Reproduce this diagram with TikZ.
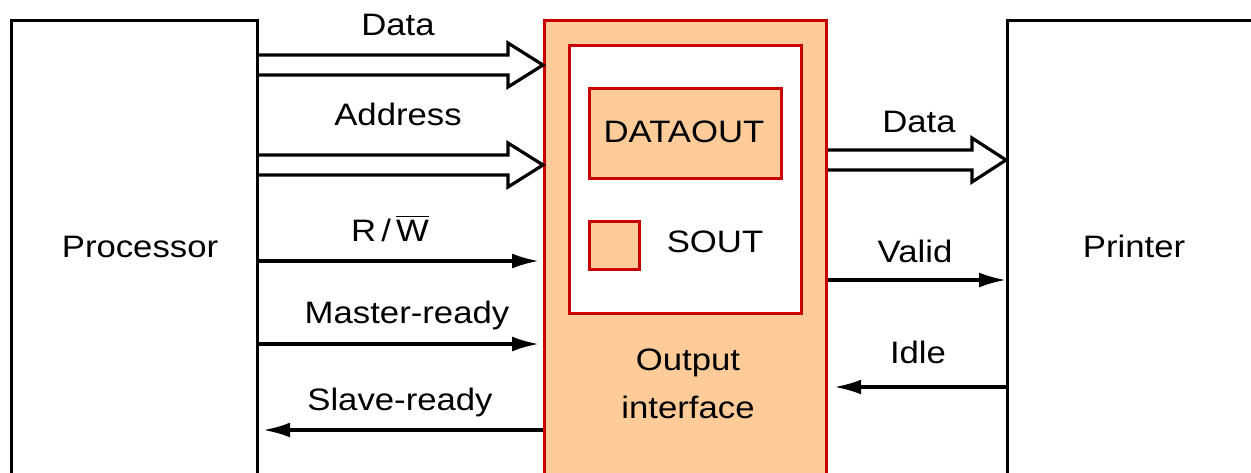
\documentclass[tikz,border=0pt]{standalone}
\usepackage{fontspec}
\setmainfont{Liberation Sans}[FakeStretch=1.12]
\usetikzlibrary{arrows.meta}
\definecolor{ired}{RGB}{200,0,0}
\definecolor{peach}{RGB}{255,204,153}
\begin{document}
\begin{tikzpicture}[x=0.5pt,y=-0.5pt,
  box/.style={draw=black,line width=1.6pt,fill=white,rectangle,inner sep=0pt,anchor=north west},
  rbox/.style={draw=ired,line width=1.6pt,rectangle,inner sep=0pt,anchor=north west},
  lbl/.style={anchor=base,inner sep=0pt,font=\fontsize{15.5}{18}\selectfont},
  bus/.style={draw=black,fill=white,line width=1.6pt,line join=miter},
  sig/.style={draw=black,line width=1.6pt,-{Latex[length=13.5pt,width=7.5pt]}}]
\useasboundingbox (0,0) rectangle (1251,472);
\clip (0,0) rectangle (1251,472);
% blocks
\node[box,minimum width=123pt,minimum height=250pt] (proc) at (10,19) {};
\node[rbox,fill=peach,minimum width=141pt,minimum height=250pt] (oi) at (543,19) {};
\node[rbox,fill=white,minimum width=116pt,minimum height=134pt] (inner) at (568,44) {};
\node[rbox,fill=peach,minimum width=96pt,minimum height=45pt] (dout) at (588,87) {};
\node[rbox,fill=peach,minimum width=25pt,minimum height=24pt] (sout) at (588,220) {};
\node[box,minimum width=130pt,minimum height=250pt] (prn) at (1006,19) {};
% texts
\node[lbl] (tproc) at (140,257) {Processor};
\node[lbl] (tprn) at (1134,257) {Printer};
\node[lbl] (tdout) at (684,142) {DATAOUT};
\node[lbl] (tsout) at (715,252) {SOUT};
\node[lbl] (tout1) at (688,370) {Output};
\node[lbl] (tout2) at (688,418) {interface};
\node[lbl] (tdata) at (398,35) {Data};
\node[lbl] (taddr) at (398,125) {Address};
\node[lbl] (trw) at (390,241) {R\,/\,$\overline{\mbox{W}}$};
\node[lbl] (tmr) at (407,323) {Master-ready};
\node[lbl] (tsr) at (400,410) {Slave-ready};
\node[lbl] (tdata2) at (919,132) {Data};
\node[lbl] (tvalid) at (915,262) {Valid};
\node[lbl] (tidle) at (918,363) {Idle};
% bus arrows
\draw[bus] (proc.east |- 0,55) -- (508,55) -- (508,43) -- (oi.west |- 0,65) -- (508,87) -- (508,75) -- (proc.east |- 0,75);
\draw[bus] (proc.east |- 0,155) -- (508,155) -- (508,143) -- (oi.west |- 0,165) -- (508,187) -- (508,175) -- (proc.east |- 0,175);
\draw[bus] (oi.east |- 0,150) -- (972,150) -- (972,138) -- (prn.west |- 0,160) -- (972,182) -- (972,170) -- (oi.east |- 0,170);
% signal arrows
\draw[sig,shorten >=2pt] (proc.east |- 0,261) -- (oi.west |- 0,261);
\draw[sig,shorten >=2pt] (proc.east |- 0,344) -- (oi.west |- 0,344);
\draw[sig,shorten >=2pt] (oi.west |- 0,430) -- (proc.east |- 0,430);
\draw[sig] (oi.east |- 0,280) -- (prn.west |- 0,280);
\draw[sig,shorten >=3pt] (prn.west |- 0,387) -- (oi.east |- 0,387);
\end{tikzpicture}
\end{document}
